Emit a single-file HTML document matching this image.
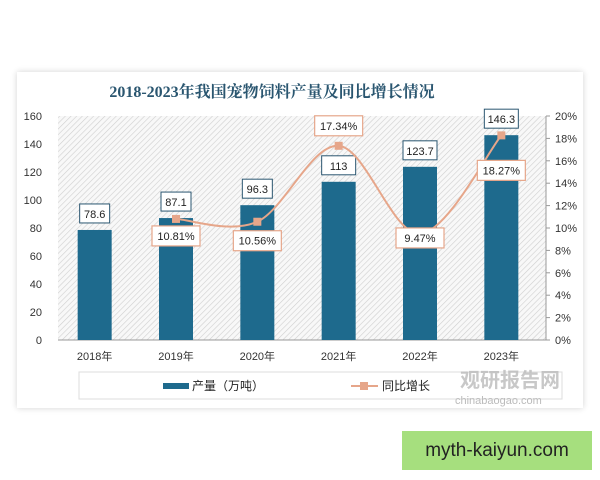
<!DOCTYPE html>
<html><head><meta charset="utf-8">
<style>
body{margin:0;width:600px;height:480px;background:#fff;overflow:hidden;font-family:"Liberation Sans","Noto Sans CJK SC",sans-serif;}
#card{position:absolute;left:17px;top:72px;width:566px;height:336px;background:#fff;box-shadow:0 0 6px rgba(0,0,0,0.18);}
#wm{position:absolute;left:402px;top:431px;width:190px;height:39px;background:#a6df7e;font-size:19px;line-height:39px;text-align:center;color:#222;}
</style></head><body>
<div id="card"></div>
<svg id="chart" width="600" height="480" style="position:absolute;left:0;top:0">
<defs>
<pattern id="hatch" width="4" height="4" patternUnits="userSpaceOnUse" patternTransform="rotate(45)">
<rect width="4" height="4" fill="#f8f8f8"/><line x1="0" y1="0" x2="0" y2="4" stroke="#cfcfcf" stroke-width="1.2"/>
</pattern>
</defs>
<text x="272" y="97" text-anchor="middle" font-size="16" font-weight="bold" fill="#2a5670" font-family="Liberation Serif,Noto Serif CJK SC,serif">2018-2023年我国宠物饲料产量及同比增长情况</text>
<g id="plot"></g>
</svg>
<div id="wm">myth-kaiyun.com</div>
<script>
const categories=["2018年","2019年","2020年","2021年","2022年","2023年"];
const production=[78.6,87.1,96.3,113,123.7,146.3];
const growth=[null,10.81,10.56,17.34,9.47,18.27];
const leftTicks=[0,20,40,60,80,100,120,140,160];
const rightTicks=[0,2,4,6,8,10,12,14,16,18,20];
const pctLabelOffsets=[0,17,19,-20,4,35];
const NS="http://www.w3.org/2000/svg";
const g=document.getElementById('plot');
const X0=58,X1=546,Y0=340,Y1=116;
const band=(X1-X0)/categories.length;
const xc=i=>X0+band*(i+0.5)-4;
const yL=v=>Y0-(v/160)*(Y0-Y1);
const yR=v=>Y0-(v/20)*(Y0-Y1);
function el(t,a,p){const e=document.createElementNS(NS,t);for(const k in a)e.setAttribute(k,a[k]);(p||g).appendChild(e);return e;}
const bg=el('rect',{x:X0,y:Y1,width:X1-X0,height:Y0-Y1,fill:'url(#hatch)'});


el('line',{x1:X0,y1:Y0,x2:X1,y2:Y0,stroke:'#999','stroke-width':1});
el('line',{x1:X1,y1:Y1,x2:X1,y2:Y0,stroke:'#999','stroke-width':1});
leftTicks.forEach(v=>{const t=el('text',{x:42,y:yL(v)+4,'text-anchor':'end','font-size':11,fill:'#333'});t.textContent=v;

});
rightTicks.forEach(v=>{el('line',{x1:X1,y1:yR(v),x2:X1+4,y2:yR(v),stroke:'#999'});const t=el('text',{x:555,y:yR(v)+4,'font-size':11,fill:'#333'});t.textContent=v+'%';

});
production.forEach((v,i)=>{const r=el('rect',{x:xc(i)-17,y:yL(v),width:34,height:Y0-yL(v),fill:'#1e6a8d'});


const w=v>=100?34:30;
el('rect',{x:xc(i)-w/2,y:yL(v)-26,width:w,height:19,fill:'#fff',stroke:'#2a5670','stroke-width':1});
const t=el('text',{x:xc(i),y:yL(v)-12,'text-anchor':'middle','font-size':11,fill:'#222'});t.textContent=v;


const lx=el('text',{x:xc(i),y:Y0+20,'text-anchor':'middle','font-size':11,fill:'#333'});lx.textContent=categories[i];

});
let pts=[];growth.forEach((v,i)=>{if(v!=null)pts.push([xc(i),yR(v)]);});
let d='M'+pts[0][0]+','+pts[0][1];
for(let i=0;i<pts.length-1;i++){const p0=pts[i-1]||pts[i],p1=pts[i],p2=pts[i+1],p3=pts[i+2]||p2;
d+=` C${p1[0]+(p2[0]-p0[0])/6},${p1[1]+(p2[1]-p0[1])/6} ${p2[0]-(p3[0]-p1[0])/6},${p2[1]-(p3[1]-p1[1])/6} ${p2[0]},${p2[1]}`;}
const line=el('path',{d:d,fill:'none',stroke:'#e6a68a','stroke-width':2});


growth.forEach((v,i)=>{if(v==null)return;const m=el('rect',{x:xc(i)-4,y:yR(v)-4,width:8,height:8,fill:'#e6a68a'});


const cy=yR(v)+pctLabelOffsets[i];
el('rect',{x:xc(i)-24,y:cy-10,width:48,height:20,fill:'#fff',stroke:'#e6a68a','stroke-width':1.2});
const t=el('text',{x:xc(i),y:cy+4,'text-anchor':'middle','font-size':11,fill:'#222'});t.textContent=v.toFixed(2)+'%';

});
const lg=el('rect',{x:79,y:372,width:483,height:27,fill:'#fff',stroke:'#ddd'});


el('rect',{x:163,y:383,width:26,height:6,fill:'#1e6a8d'});
const l1=el('text',{x:192,y:390,'font-size':12,fill:'#222'});l1.textContent='产量（万吨）';


el('line',{x1:351,y1:386,x2:378,y2:386,stroke:'#e6a68a','stroke-width':2});
el('rect',{x:360,y:382,width:8,height:8,fill:'#e6a68a'});
const l2=el('text',{x:382,y:390,'font-size':12,fill:'#222'});l2.textContent='同比增长';


const w1=el('text',{x:460,y:387,'font-size':20,'font-weight':'bold',fill:'#bbb',opacity:0.8});w1.textContent='观研报告网';


const w2=el('text',{x:455,y:404,'font-size':11,fill:'#bbb'});w2.textContent='chinabaogao.com';


</script>
</body></html>
